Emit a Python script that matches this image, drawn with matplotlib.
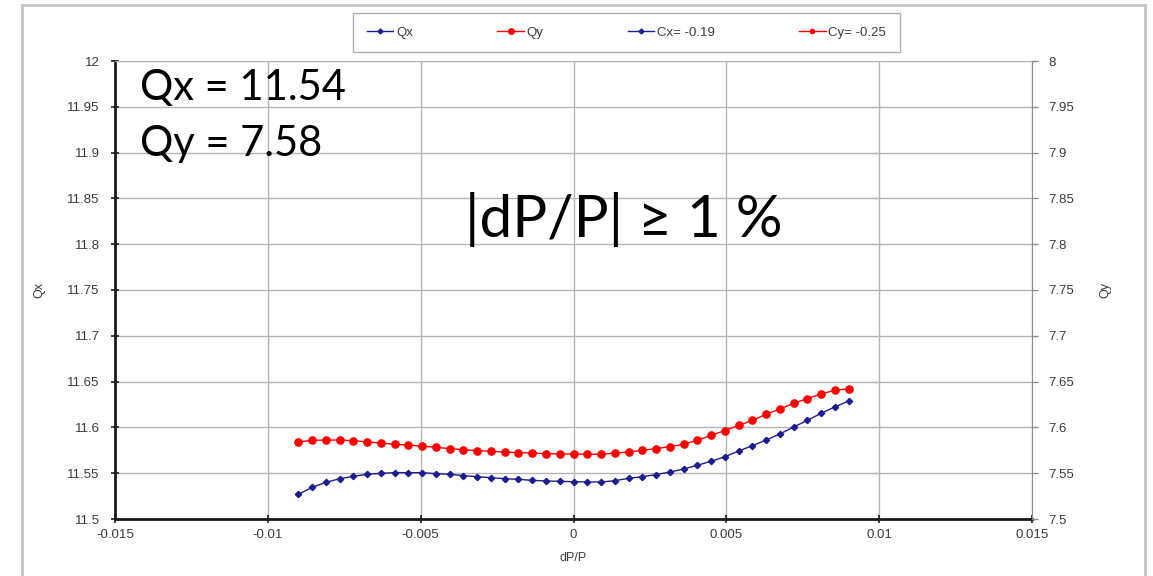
import numpy as np
import matplotlib.pyplot as plt
from matplotlib.lines import Line2D
from matplotlib.patches import Rectangle

# tune vs momentum offset, 41 points from -0.009 to 0.009
dpp = np.linspace(-0.009, 0.009, 41)

qx = [11.527, 11.5346, 11.540, 11.544, 11.5466, 11.5488, 11.5499, 11.5506, 11.5506, 11.5506,
      11.5495, 11.5488, 11.5473, 11.5462, 11.5451, 11.544, 11.5433, 11.5422, 11.5415, 11.5411,
      11.5407, 11.5404, 11.5404, 11.5418, 11.5444, 11.5462, 11.5484, 11.5513, 11.5546, 11.5586,
      11.563, 11.568, 11.5742, 11.580, 11.5862, 11.5928, 11.6004, 11.6077, 11.6154, 11.6223,
      11.6288]

qy = [7.5841, 7.5859, 7.5862, 7.5862, 7.5855, 7.5841, 7.583, 7.5815, 7.5808, 7.5794,
      7.5783, 7.5768, 7.5757, 7.5746, 7.5739, 7.5731, 7.5724, 7.572, 7.5713, 7.571,
      7.571, 7.5706, 7.5706, 7.572, 7.5731, 7.575, 7.5768, 7.579, 7.5815, 7.586,
      7.5912, 7.5966, 7.6022, 7.6077, 7.6143, 7.6201, 7.6263, 7.6314, 7.6365, 7.6405,
      7.6423]

x_ticks = [-0.015, -0.01, -0.005, 0, 0.005, 0.01, 0.015]
x_tick_labels = ['-0.015', '-0.01', '-0.005', '0', '0.005', '0.01', '0.015']
qx_ticks = [11.5, 11.55, 11.6, 11.65, 11.7, 11.75, 11.8, 11.85, 11.9, 11.95, 12]
qx_tick_labels = ['11.5', '11.55', '11.6', '11.65', '11.7', '11.75', '11.8', '11.85', '11.9', '11.95', '12']
qy_ticks = [7.5, 7.55, 7.6, 7.65, 7.7, 7.75, 7.8, 7.85, 7.9, 7.95, 8]
qy_tick_labels = ['7.5', '7.55', '7.6', '7.65', '7.7', '7.75', '7.8', '7.85', '7.9', '7.95', '8']

legend_labels = ['Qx', 'Qy', 'Cx= -0.19', 'Cy= -0.25']

BLUE = '#1c1c8f'
RED = '#ff0000'
GRID = '#b4b4b4'
TXT = '#3a3a3a'

plt.rcParams['font.family'] = ['Liberation Sans', 'DejaVu Sans']

fig = plt.figure(figsize=(11.53, 5.76), dpi=100)
W, H = 1153, 576
ax = fig.add_axes([115 / W, 1 - 519 / H, 917 / W, 458 / H])
ax2 = ax.twinx()

# outer chart frame
fig.patches.append(Rectangle((22 / W, -0.05), (1145 - 22) / W, 1 - 5 / H + 0.05,
                             transform=fig.transFigure, fill=False,
                             edgecolor='#c4c4c4', linewidth=2))

ax.plot(dpp, qx, color=BLUE, lw=1, marker='D', ms=3.2, mfc=BLUE, mec=BLUE, zorder=3)
ax2.plot(dpp, qy, color=RED, lw=1, marker='o', ms=5.2, mfc=RED, mec=RED, zorder=3)

ax.set_xlim(-0.015, 0.015)
ax.set_ylim(11.5, 12)
ax2.set_ylim(7.5, 8)
ax.set_xticks(x_ticks)
ax.set_xticklabels(x_tick_labels)
ax.set_yticks(qx_ticks)
ax.set_yticklabels(qx_tick_labels)
ax2.set_yticks(qy_ticks)
ax2.set_yticklabels(qy_tick_labels)

ax.grid(True, color=GRID, lw=1)
ax.set_axisbelow(True)

for s in ['left', 'bottom']:
    ax.spines[s].set_linewidth(2)
    ax.spines[s].set_color('#1a1a1a')
ax.spines['top'].set_color(GRID)
for s in ['left', 'bottom', 'top']:
    ax2.spines[s].set_visible(False)
ax2.spines['right'].set_color('#8a8a8a')
ax.spines['right'].set_visible(False)

ax.tick_params(axis='both', direction='inout', length=6, width=1.2, colors='#1a1a1a',
               labelsize=9.5, labelcolor=TXT)
ax.tick_params(axis='y', pad=8)
ax.tick_params(axis='x', pad=4)
ax2.tick_params(axis='y', direction='out', length=4, width=1, colors='#8a8a8a',
                labelsize=9.5, labelcolor=TXT, pad=8)

ax.set_xlabel('dP/P', fontsize=9, color=TXT, labelpad=8)
ax.set_ylabel('Qx', fontsize=9, color=TXT, labelpad=16)
ax2.set_ylabel('Qy', fontsize=9, color=TXT, rotation=90, labelpad=18)

big = ['Lato', 'DejaVu Sans']
ax.text(0.027, 0.915, 'Qx = 11.54', transform=ax.transAxes, fontsize=30,
        family=big, va='baseline', ha='left', color='black')
ax.text(0.027, 0.793, 'Qy = 7.58', transform=ax.transAxes, fontsize=30,
        family=big, va='baseline', ha='left', color='black')
ax.text(0.382, 0.616, '|dP/P| \u2265 1 %', transform=ax.transAxes, fontsize=42,
        family=big, va='baseline', ha='left', color='black')

handles = [
    Line2D([], [], color=BLUE, lw=1, marker='D', ms=2.5),
    Line2D([], [], color=RED, lw=1, marker='o', ms=4),
    Line2D([], [], color=BLUE, lw=1, marker='D', ms=2.5),
    Line2D([], [], color=RED, lw=1, marker='o', ms=3),
]
leg = fig.legend(handles, legend_labels, loc='center', ncol=4,
                 bbox_to_anchor=(626.5 / W, 1 - 32.5 / H), fontsize=9.5,
                 frameon=True, fancybox=False, edgecolor='#9a9a9a',
                 handlelength=2.0, handletextpad=0.2, columnspacing=6.4,
                 borderpad=1.05, borderaxespad=0)
leg.get_frame().set_linewidth(1)
for t in leg.get_texts():
    t.set_color(TXT)

fig.savefig('out.png', dpi=100)
